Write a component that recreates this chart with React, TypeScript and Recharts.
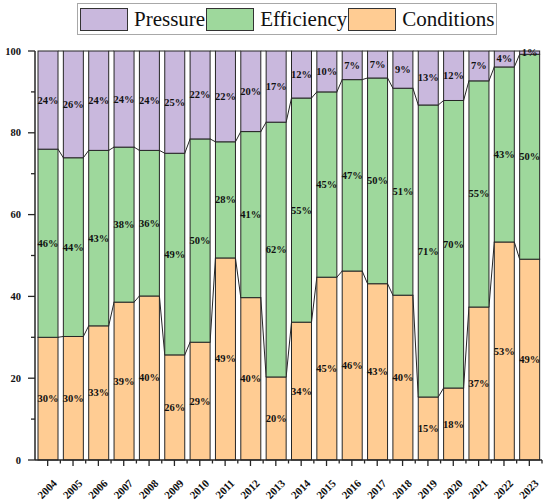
import React from 'react';
import { BarChart, Bar, XAxis, YAxis, Legend, LabelList } from 'recharts';

const years = ['2004', '2005', '2006', '2007', '2008', '2009', '2010', '2011', '2012', '2013', '2014', '2015', '2016', '2017', '2018', '2019', '2020', '2021', '2022', '2023'];
const conditions = [30, 30.2, 32.8, 38.6, 40.1, 25.7, 28.8, 49.4, 39.7, 20.3, 33.7, 44.7, 46.2, 43.1, 40.3, 15.4, 17.6, 37.4, 53.3, 49.1];
const efficiency = [46, 43.7, 42.9, 37.9, 35.6, 49.3, 49.7, 28.4, 40.6, 62.3, 54.8, 45.3, 46.8, 50.3, 50.6, 71.4, 70.3, 55.3, 42.8, 50.1];
const pressure = [24, 26.1, 24.3, 23.5, 24.3, 25, 21.5, 22.2, 19.7, 17.4, 11.5, 10, 7, 6.6, 9.1, 13.2, 12.1, 7.3, 3.9, 0.8];
const yTicks = [0, 10, 20, 30, 40, 50, 60, 70, 80, 90, 100];

const COLORS: Record<string, string> = {
  conditions: '#FFCC93',
  efficiency: '#9ED89C',
  pressure: '#C9B8DD',
};
const legendItems = [
  { key: 'pressure', label: 'Pressure' },
  { key: 'efficiency', label: 'Efficiency' },
  { key: 'conditions', label: 'Conditions' },
];

const W = 550;
const H = 502;
const M = { top: 51, right: 8, bottom: 0, left: 0 };
const Y_W = 35;
const X_H = 42;
const PLOT_W = W - M.left - M.right - Y_W;
const PLOT_H = H - M.top - M.bottom - X_H;
const BAND = PLOT_W / years.length;
const PX = PLOT_H / 100;
const SERIF = 'Liberation Serif, Times New Roman, serif';
const EDGE = '#262626';

const data = years.map((year, i) => ({
  year,
  conditions: conditions[i],
  efficiency: efficiency[i],
  pressure: pressure[i],
}));

const tops: Record<string, number[]> = {
  conditions: data.map((d) => d.conditions),
  efficiency: data.map((d) => d.conditions + d.efficiency),
  pressure: data.map((d) => d.conditions + d.efficiency + d.pressure),
};

function makeShape(key: string) {
  return (props: any) => {
    const { x, y, width, height, index, fill } = props;
    const arr = tops[key];
    const hasNext = index < arr.length - 1;
    return (
      <g>
        <rect x={x} y={y} width={width} height={Math.max(height, 0)} fill={fill} stroke={EDGE} strokeWidth={1} />
        {hasNext && (
          <line
            x1={x + width}
            y1={y}
            x2={x + BAND}
            y2={y + (arr[index] - arr[index + 1]) * PX}
            stroke={EDGE}
            strokeWidth={1}
          />
        )}
      </g>
    );
  };
}

const renderLabel = (props: any) => {
  const { x, y, width, height, value } = props;
  const v = Array.isArray(value) ? value[1] - value[0] : Number(value);
  return (
    <text
      x={x + width / 2}
      y={y + height / 2}
      textAnchor="middle"
      dominantBaseline="central"
      style={{ fontFamily: SERIF, fontWeight: 700, fontSize: 10.5 }}
      fill="#111"
    >
      {`${Math.round(v)}%`}
    </text>
  );
};

const XTick = (props: any) => {
  const { x, payload } = props;
  const ay = M.top + PLOT_H;
  const tx = x + 10;
  const ty = ay + 24;
  return (
    <g>
      <line x1={x} x2={x} y1={ay} y2={ay + 6} stroke={EDGE} strokeWidth={1.3} />
      <line x1={x + BAND / 2} x2={x + BAND / 2} y1={ay} y2={ay + 3.5} stroke={EDGE} strokeWidth={1.3} />
      <text
        x={tx}
        y={ty}
        transform={`rotate(-45 ${tx} ${ty})`}
        textAnchor="end"
        style={{ fontFamily: SERIF, fontWeight: 700, fontSize: 11 }}
        fill="#111"
      >
        {payload.value}
      </text>
    </g>
  );
};

const YTick = (props: any) => {
  const { y, payload } = props;
  const ax = M.left + Y_W;
  const major = payload.value % 20 === 0;
  return (
    <g>
      <line x1={ax - (major ? 7 : 4)} x2={ax} y1={y} y2={y} stroke={EDGE} strokeWidth={1.3} />
      {major && (
        <text
          x={ax - 14}
          y={y}
          textAnchor="end"
          dominantBaseline="central"
          style={{ fontFamily: SERIF, fontWeight: 700, fontSize: 10.5 }}
          fill="#111"
        >
          {payload.value}
        </text>
      )}
    </g>
  );
};

const renderLegend = () => (
  <div
    style={{
      boxSizing: 'border-box',
      width: 420,
      height: 32,
      border: '1px solid #A8A8A8',
      display: 'flex',
      alignItems: 'center',
      paddingLeft: 2,
      fontFamily: SERIF,
      fontSize: 21,
      background: '#fff',
      color: '#111',
    }}
  >
    {legendItems.map((it) => (
      <div key={it.key} style={{ display: 'flex', alignItems: 'center' }}>
        <span
          style={{
            display: 'inline-block',
            boxSizing: 'border-box',
            width: 48,
            height: 23,
            border: '1px solid #333',
            background: COLORS[it.key],
            marginRight: 6,
          }}
        />
        <span style={{ lineHeight: 1, marginRight: 1, whiteSpace: 'nowrap' }}>{it.label}</span>
      </div>
    ))}
  </div>
);

export default function App() {
  return (
    <div style={{ position: 'absolute', left: 0, top: 0, width: W, height: H, background: '#fff' }}>
      <BarChart width={W} height={H} data={data} margin={M} barSize={20}>
        <XAxis
          dataKey="year"
          interval={0}
          height={X_H}
          tickLine={false}
          tickSize={6}
          axisLine={{ stroke: EDGE, strokeWidth: 1.5 }}
          tick={<XTick />}
        />
        <YAxis
          type="number"
          domain={[0, 100]}
          ticks={yTicks}
          interval={0}
          width={Y_W}
          tickLine={false}
          axisLine={{ stroke: EDGE, strokeWidth: 1.5 }}
          tick={<YTick />}
        />
        <Legend
          layout="horizontal"
          verticalAlign="middle"
          align="center"
          wrapperStyle={{ position: 'absolute', top: 3, left: 77, width: 420, height: 32 }}
          content={renderLegend}
        />
        <Bar dataKey="conditions" stackId="a" fill={COLORS.conditions} isAnimationActive={false} shape={makeShape('conditions')}>
          <LabelList dataKey="conditions" content={renderLabel} />
        </Bar>
        <Bar dataKey="efficiency" stackId="a" fill={COLORS.efficiency} isAnimationActive={false} shape={makeShape('efficiency')}>
          <LabelList dataKey="efficiency" content={renderLabel} />
        </Bar>
        <Bar dataKey="pressure" stackId="a" fill={COLORS.pressure} isAnimationActive={false} shape={makeShape('pressure')}>
          <LabelList dataKey="pressure" content={renderLabel} />
        </Bar>
      </BarChart>
    </div>
  );
}
